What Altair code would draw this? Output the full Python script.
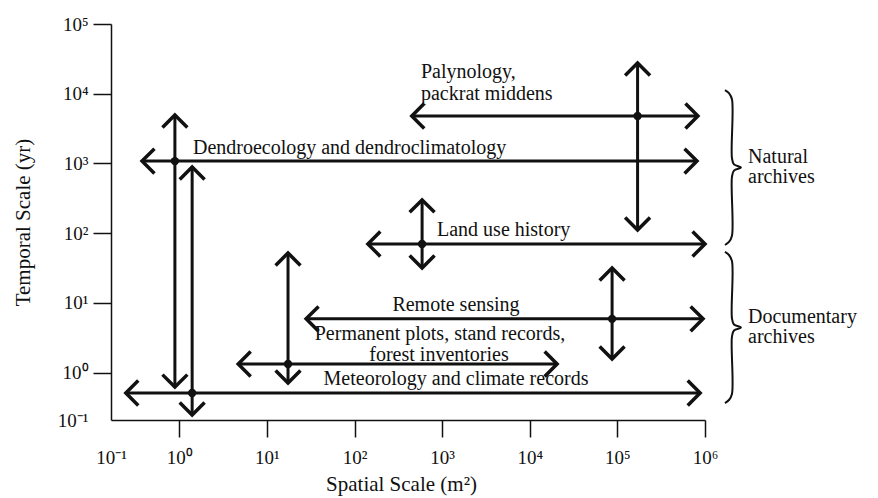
import math
import altair as alt
import pandas as pd

FONT = "Liberation Serif"
INK = "#111111"

# ---------------- data ----------------
arrow_names = ["Palynology", "Dendroecology", "Land use history",
               "Remote sensing", "Permanent plots", "Meteorology"]
# horizontal (spatial range) arrows
h_y = [4800, 1080, 70, 5.9, 1.33, 0.51]
h_x1 = [450, 0.375, 142, 28, 4.7, 0.245]
h_x2 = [8.3e5, 8.1e5, 1.0e6, 9.5e5, 2.05e4, 8.8e5]
# vertical (temporal range) arrows
v_x = [1.7e5, 0.89, 590, 8.7e4, 17.4, 1.40]
v_y1 = [111, 0.62, 31.6, 1.57, 0.71, 0.247]
v_y2 = [2.76e4, 4950, 300, 31.6, 52, 890]

# arrow labels
lab_left_text = ["Palynology,", "packrat middens",
                 "Dendroecology and dendroclimatology", "Land use history"]
lab_left_x = [573, 573, 1.43, 873]
lab_left_y = [20500, 10000, 1663, 111]
lab_center_text = ["Remote sensing", "Permanent plots, stand records,",
                   "forest inventories", "Meteorology and climate records"]
lab_center_x = [1439, 944, 920, 1439]
lab_center_y = [9.33, 3.55, 1.80, 0.81]

# archive braces (temporal span covered)
brace_names = ["Natural archives", "Documentary archives"]
brace_top = [11300, 53.7]
brace_bottom = [67.6, 0.366]
brace_x = 1.69e6
brace_label_text = ["Natural", "archives", "Documentary", "archives"]
brace_label_y = [1236, 638, 6.27, 3.24]
brace_label_x = 3.1e6

x_tick_labels = ["10⁻¹", "10⁰", "10¹", "10²", "10³", "10⁴", "10⁵", "10⁶"]
y_tick_labels = ["10⁻¹", "10⁰", "10¹", "10²", "10³", "10⁴", "10⁵"]

# ---------------- layout / style ----------------
W, H = 594, 396
X_LO_EXP, X_HI_EXP = -0.78, 6
Y_LO_EXP, Y_HI_EXP = -0.68, 5
PX_PER_DEC_X = W / (X_HI_EXP - X_LO_EXP)
HEAD_PATH = "M -1 1 L 0 0 L 1 1"
BRACE_U = [0, 0.02, 0.06, 0.44, 0.48, 0.5, 0.52, 0.56, 0.94, 0.98, 1]
BRACE_V = [0, 4, 7, 7, 9, 16, 9, 7, 7, 4, 0]

# ---------------- tables ----------------
lines = []
heads = []
dots = []
for i, n in enumerate(arrow_names):
    lines.append({"x": h_x1[i], "x2": h_x2[i], "y": h_y[i], "y2": h_y[i]})
    lines.append({"x": v_x[i], "x2": v_x[i], "y": v_y1[i], "y2": v_y2[i]})
    heads += [
        {"x": h_x1[i], "y": h_y[i], "angle": 270},
        {"x": h_x2[i], "y": h_y[i], "angle": 90},
        {"x": v_x[i], "y": v_y2[i], "angle": 0},
        {"x": v_x[i], "y": v_y1[i], "angle": 180},
    ]
    dots.append({"x": v_x[i], "y": h_y[i]})
lines_df = pd.DataFrame(lines)
heads_df = pd.DataFrame(heads)
dots_df = pd.DataFrame(dots)
left_df = pd.DataFrame({"x": lab_left_x, "y": lab_left_y, "t": lab_left_text})
center_df = pd.DataFrame({"x": lab_center_x, "y": lab_center_y, "t": lab_center_text})

brace_rows = []
for b, name in enumerate(brace_names):
    lt, lb = math.log10(brace_top[b]), math.log10(brace_bottom[b])
    for k, (u, v) in enumerate(zip(BRACE_U, BRACE_V)):
        brace_rows.append({
            "brace": name, "i": k,
            "x": brace_x * 10 ** (v / PX_PER_DEC_X),
            "y": 10 ** (lt + u * (lb - lt)),
        })
brace_df = pd.DataFrame(brace_rows)
brace_lab_df = pd.DataFrame({"x": [brace_label_x] * 4, "y": brace_label_y,
                             "t": brace_label_text})

# ---------------- scales & axes ----------------
x_ticks = [10 ** X_LO_EXP] + [10.0 ** e for e in range(0, 7)]
y_ticks = [10 ** Y_LO_EXP] + [10.0 ** e for e in range(0, 6)]


def lab_expr(labels):
    arr = "[" + ",".join("'%s'" % s for s in labels[1:]) + "]"
    return "datum.value < 0.5 ? '%s' : %s[round(log(datum.value)/LN10)]" % (labels[0], arr)


hide_first = {"condition": {"test": "datum.value < 0.5", "value": "transparent"},
              "value": INK}

x_scale = alt.Scale(type="log", domain=[10 ** X_LO_EXP, 10 ** X_HI_EXP], nice=False)
y_scale = alt.Scale(type="log", domain=[10 ** Y_LO_EXP, 10 ** Y_HI_EXP], nice=False)

x_axis = alt.Axis(
    title="Spatial Scale (m²)", values=x_ticks, labelExpr=lab_expr(x_tick_labels),
    grid=False, domainColor=INK, domainWidth=1.5, tickColor=hide_first,
    tickWidth=1.5, tickSize=17, labelFont=FONT, labelFontSize=19, labelColor=INK,
    labelPadding=11, labelFlush=False, labelOverlap=False, labelBound=False,
    titleFont=FONT, titleFontSize=21, titleFontWeight="normal", titleColor=INK,
    titleX=290, titleY=64, titleAlign="center", titleBaseline="middle",
)
y_axis = alt.Axis(
    title="Temporal Scale (yr)", values=y_ticks, labelExpr=lab_expr(y_tick_labels),
    grid=False, domainColor=INK, domainWidth=1.5, tickColor=hide_first,
    tickWidth=1.5, tickSize=18, labelFont=FONT, labelFontSize=19, labelColor=INK,
    labelPadding=5, labelOverlap=False, labelBound=False,
    titleFont=FONT, titleFontSize=21, titleFontWeight="normal", titleColor=INK,
    titleAngle=270, titleX=-88, titleY=198, titleAlign="center", titleBaseline="middle",
)


def X():
    return alt.X("x:Q", scale=x_scale, axis=x_axis)


def Y():
    return alt.Y("y:Q", scale=y_scale, axis=y_axis)


rules = alt.Chart(lines_df).mark_rule(strokeWidth=3, color=INK).encode(
    x=X(), x2="x2:Q", y=Y(), y2="y2:Q")
arrowheads = alt.Chart(heads_df).mark_point(
    shape=HEAD_PATH, size=620, filled=False, strokeWidth=3.5, color=INK, opacity=1,
    strokeJoin="miter").encode(x=X(), y=Y(), angle=alt.Angle("angle:Q", scale=None))
dot_layer = alt.Chart(dots_df).mark_circle(size=70, color=INK, opacity=1).encode(
    x=X(), y=Y())
text_left = alt.Chart(left_df).mark_text(
    font=FONT, fontSize=20, color=INK, align="left", baseline="middle").encode(
    x=X(), y=Y(), text="t:N")
text_center = alt.Chart(center_df).mark_text(
    font=FONT, fontSize=20, color=INK, align="center", baseline="middle").encode(
    x=X(), y=Y(), text="t:N")
braces = alt.Chart(brace_df).mark_line(
    interpolate="catmull-rom", strokeWidth=2, color=INK).encode(
    x=X(), y=Y(), detail="brace:N", order="i:Q")
brace_text = alt.Chart(brace_lab_df).mark_text(
    font=FONT, fontSize=20, color=INK, align="left", baseline="middle").encode(
    x=X(), y=Y(), text="t:N")

chart = alt.layer(rules, arrowheads, dot_layer, text_left, text_center, braces,
                  brace_text).properties(
    width=W, height=H,
    autosize=alt.AutoSizeParams(type="none"),
    padding={"left": 103, "top": 16, "right": 160, "bottom": 76},
).configure_view(stroke="transparent")

chart.save("out.html", embed_options={"renderer": "svg", "actions": False})
